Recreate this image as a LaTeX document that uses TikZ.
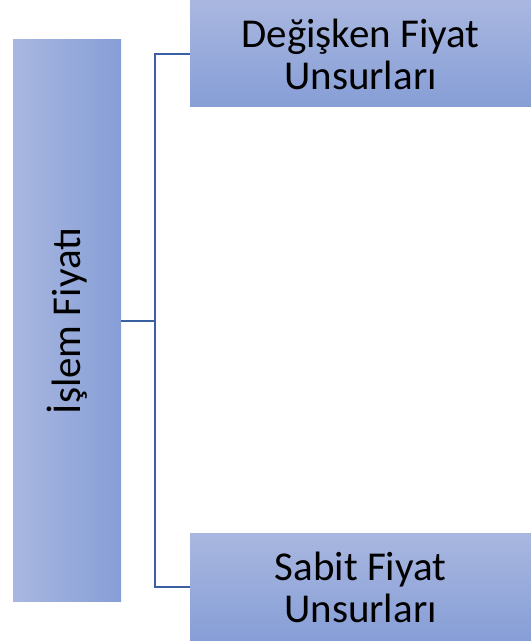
\documentclass[tikz,border=0pt]{standalone}
\usepackage{fontspec}
\setmainfont{Carlito}
\definecolor{boxlight}{HTML}{A9B7E0}
\definecolor{boxdark}{HTML}{869ED6}
\definecolor{linkblue}{HTML}{3A5FA3}
\begin{document}
\begin{tikzpicture}[x=1pt,y=1pt,
  hbox/.style={inner sep=0pt, outer sep=0pt, top color=boxlight, bottom color=boxdark},
  vbox/.style={inner sep=0pt, outer sep=0pt, left color=boxlight, right color=boxdark},
  label/.style={inner sep=0pt, align=center, font=\fontsize{41}{42}\selectfont},
  link/.style={draw=linkblue, line width=2pt}]
\useasboundingbox (0,0) rectangle (531,641);
% root box, text reads bottom to top
\node[vbox, minimum width=108, minimum height=562] (root) at (67,320) {};
\node[label, rotate=90] (roottext) at (root.center) {İşlem Fiyatı};
% child boxes
\node[hbox, minimum width=341, minimum height=106] (var) at (360.5,587) {};
\node[label] (vartext) at (var.center) {Değişken Fiyat\\Unsurları};
\node[hbox, minimum width=341, minimum height=107] (fix) at (360.5,53.5) {};
\node[label] (fixtext) at (fix.center) {Sabit Fiyat\\Unsurları};
% bracket connector
\coordinate (fork) at (155,320);
\draw[link] (root.east) -- (fork);
\draw[link] (var.west) -| (fork) |- (fix.west);
\end{tikzpicture}
\end{document}
